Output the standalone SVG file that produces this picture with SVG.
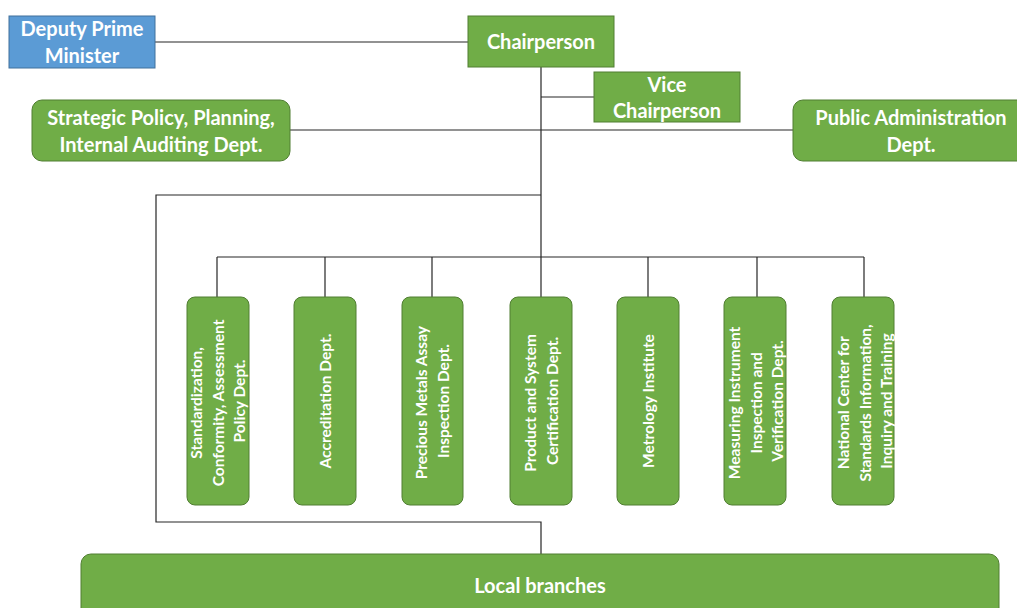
<svg xmlns="http://www.w3.org/2000/svg" width="1017" height="608" viewBox="0 0 1017 608">
  <style>
    .blue { fill: #5B9BD5; stroke: #41719C; stroke-width: 1; }
    .green { fill: #70AD47; stroke: #507E32; stroke-width: 1; }
    .t { font-family: "Lato", "Liberation Sans", sans-serif; font-weight: bold; fill: #FFFFFF; text-anchor: middle; }
    .big { font-size: 20px; }
    .small { font-size: 15.5px; }
    .wire { fill: none; stroke: #262626; stroke-width: 1.2; }
  </style>
  <rect width="1017" height="608" fill="#FFFFFF"/>

  <!-- connectors -->
  <g id="connectors" class="wire">
    <line x1="155" y1="42" x2="468" y2="42"/>
    <line x1="541" y1="67" x2="541" y2="257"/>
    <line x1="541" y1="97" x2="594" y2="97"/>
    <line x1="290" y1="130" x2="793" y2="130"/>
    <polyline points="541,195 156,195 156,522 541,522 541,554"/>
    <line x1="217" y1="257" x2="864" y2="257"/>
    <line x1="217" y1="257" x2="217" y2="297"/>
    <line x1="325" y1="257" x2="325" y2="297"/>
    <line x1="432" y1="257" x2="432" y2="297"/>
    <line x1="541" y1="257" x2="541" y2="297"/>
    <line x1="648" y1="257" x2="648" y2="297"/>
    <line x1="757" y1="257" x2="757" y2="297"/>
    <line x1="864" y1="257" x2="864" y2="297"/>
  </g>

  <g id="deputy-prime-minister">
    <rect class="blue" x="9" y="16" width="146" height="52"/>
    <text class="t big" x="82" y="36">Deputy Prime</text>
    <text class="t big" x="82" y="63">Minister</text>
  </g>

  <g id="chairperson">
    <rect class="green" x="468" y="16" width="146" height="51"/>
    <text class="t big" x="541" y="49">Chairperson</text>
  </g>

  <g id="vice-chairperson">
    <rect class="green" x="594" y="72" width="146" height="50"/>
    <text class="t big" x="667" y="92">Vice</text>
    <text class="t big" x="667" y="118">Chairperson</text>
  </g>

  <g id="strategic-policy">
    <rect class="green" x="32" y="100" width="258" height="61" rx="10"/>
    <text class="t big" x="161" y="125">Strategic Policy, Planning,</text>
    <text class="t big" x="161" y="152">Internal Auditing Dept.</text>
  </g>

  <g id="public-administration">
    <rect class="green" x="793" y="100" width="236" height="61" rx="10"/>
    <text class="t big" x="911" y="125">Public Administration</text>
    <text class="t big" x="911" y="152">Dept.</text>
  </g>

  <g id="standardization">
    <rect class="green" x="187" y="297" width="62" height="208" rx="8"/>
    <text class="t small" transform="translate(218 401) rotate(-90)">
      <tspan x="0" y="-16">Standardization,</tspan>
      <tspan x="0" y="5.5">Conformity, Assessment</tspan>
      <tspan x="0" y="27">Policy Dept.</tspan>
    </text>
  </g>

  <g id="accreditation">
    <rect class="green" x="294" y="297" width="62" height="208" rx="8"/>
    <text class="t small" transform="translate(325 401) rotate(-90)">
      <tspan x="0" y="5.5">Accreditation Dept.</tspan>
    </text>
  </g>

  <g id="precious-metals">
    <rect class="green" x="402" y="297" width="61" height="208" rx="8"/>
    <text class="t small" transform="translate(432 401) rotate(-90)">
      <tspan x="0" y="-5">Precious Metals Assay</tspan>
      <tspan x="0" y="16.5">Inspection Dept.</tspan>
    </text>
  </g>

  <g id="product-certification">
    <rect class="green" x="510" y="297" width="62" height="208" rx="8"/>
    <text class="t small" transform="translate(541 401) rotate(-90)">
      <tspan x="0" y="-5">Product and System</tspan>
      <tspan x="0" y="16.5">Certification Dept.</tspan>
    </text>
  </g>

  <g id="metrology">
    <rect class="green" x="617" y="297" width="62" height="208" rx="8"/>
    <text class="t small" transform="translate(648 401) rotate(-90)">
      <tspan x="0" y="5.5">Metrology Institute</tspan>
    </text>
  </g>

  <g id="measuring-instrument">
    <rect class="green" x="724" y="297" width="62" height="208" rx="8"/>
    <text class="t small" transform="translate(756 401) rotate(-90)">
      <tspan x="0" y="-16">Measuring Instrument</tspan>
      <tspan x="0" y="5.5">Inspection and</tspan>
      <tspan x="0" y="27">Verification Dept.</tspan>
    </text>
  </g>

  <g id="national-center">
    <rect class="green" x="832" y="297" width="62" height="208" rx="8"/>
    <text class="t small" transform="translate(865 401) rotate(-90)">
      <tspan x="0" y="-16">National Center for</tspan>
      <tspan x="0" y="5.5">Standards Information,</tspan>
      <tspan x="0" y="27">Inquiry and Training</tspan>
    </text>
  </g>

  <g id="local-branches">
    <rect class="green" x="81" y="554" width="918" height="80" rx="10"/>
    <text class="t big" x="540" y="593">Local branches</text>
  </g>
</svg>
